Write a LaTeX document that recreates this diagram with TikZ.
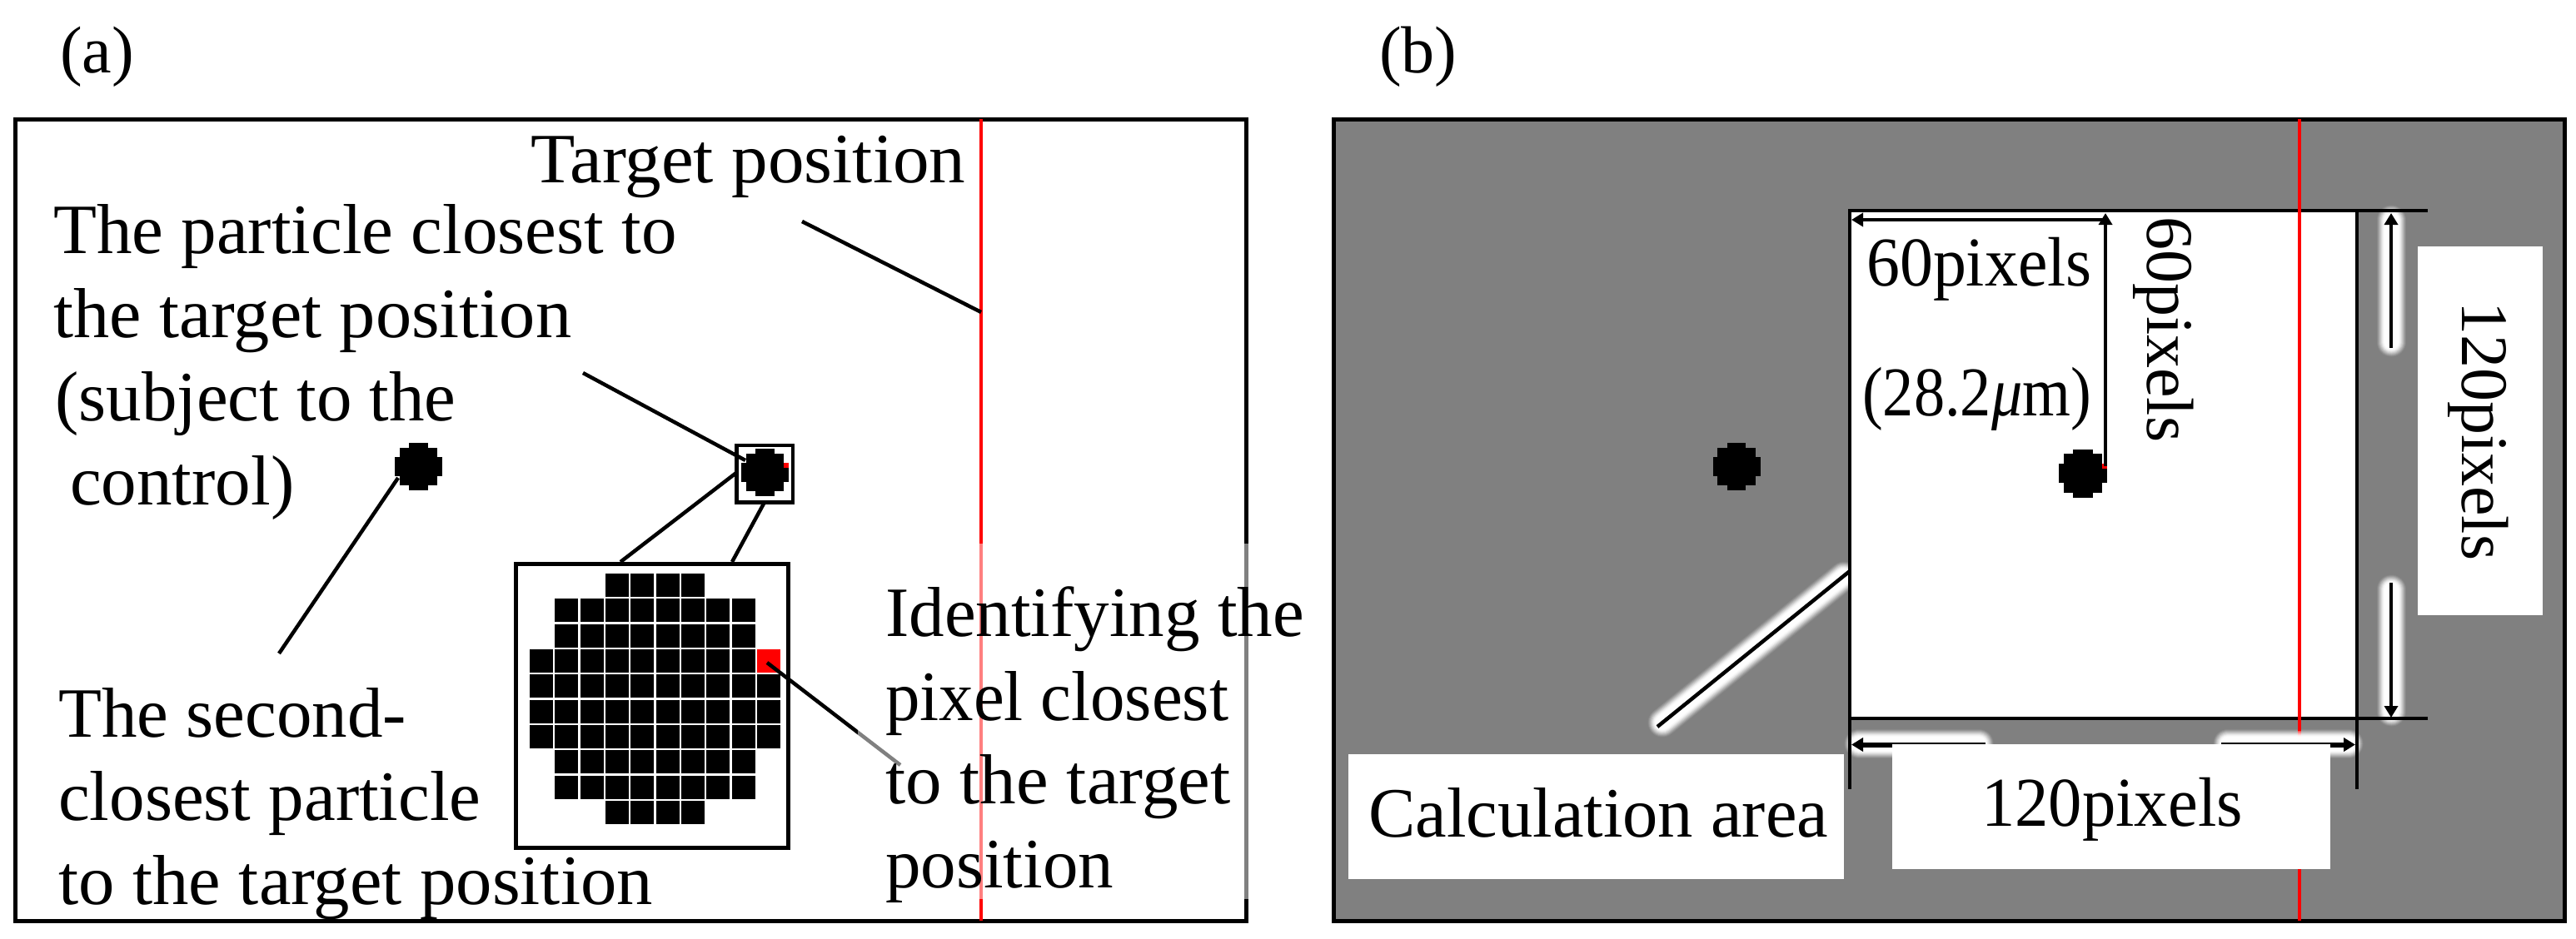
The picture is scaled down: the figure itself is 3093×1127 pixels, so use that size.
\documentclass[tikz,border=0pt]{standalone}
\usepackage{fontspec}
\usepackage{graphicx}
\setmainfont{Liberation Serif}
\usetikzlibrary{arrows.meta}
\definecolor{panelgray}{HTML}{808080}
\definecolor{markred}{HTML}{FF0000}
\tikzset{
  frame/.style={draw=black,line width=5pt,rectangle,inner sep=0pt},
  leader/.style={black,line width=4.5pt},
  redline/.style={markred,line width=3.5pt},
  winline/.style={black,line width=4.5pt},
  tiplong/.style={-{Triangle[width=16pt,length=14pt]}},
  lbl/.style={anchor=base west,inner sep=0pt,align=left,font=\fontsize{85}{100.5}\selectfont},
}
\newcommand{\widen}[2]{\scalebox{#1}[1]{#2}}
% top-left x, top-left y, pixel size, colour of the marked pixel
\newcommand{\particleshape}[4]{%
  \fill[black] (#1+3*#3,#2) rectangle (#1+7*#3,#2+1*#3);
  \fill[black] (#1+1*#3,#2+1*#3) rectangle (#1+9*#3,#2+3*#3);
  \fill[black] (#1,#2+3*#3) rectangle (#1+10*#3,#2+7*#3);
  \fill[black] (#1+1*#3,#2+7*#3) rectangle (#1+9*#3,#2+9*#3);
  \fill[black] (#1+3*#3,#2+9*#3) rectangle (#1+7*#3,#2+10*#3);
  \fill[#4] (#1+9*#3,#2+3*#3) rectangle (#1+10*#3,#2+4*#3);
}
% soft white glow behind a line
\newcommand{\glowline}[2]{%
  \foreach \w/\o in {35/.08,33/.12,31/.16,29/.2,27/.25,25/.3,23/.4,21/.5,19/.6,17/.8}{
    \draw[white,line width=\w pt,opacity=\o,line cap=round] #1 -- #2;
  }
}
\begin{document}
\begin{tikzpicture}[x=1pt,y=-1pt]
\useasboundingbox (0,0) rectangle (3093,1127);
\fill[white] (0,0) rectangle (3093,1127);

% ---------- panel (a)
\node[lbl,font=\fontsize{80}{90}\selectfont] (tagA) at (72,87) {(a)};
\node[frame,minimum width=1478pt,minimum height=963pt] (frameA) at (757,624.5) {};
\coordinate (redAtop) at (1178,143);
\coordinate (redAbot) at (1178,1106);
\coordinate (redAhit) at (1178,375);
\draw[redline,line width=4.5pt] (redAtop) -- (redAbot);

\particleshape{474}{532}{5.7}{black}
\particleshape{890}{539}{5.7}{markred}

\node[draw=black,line width=4.5pt,inner sep=0pt,minimum width=67.3pt,minimum height=68.7pt] (smallbox) at (918.35,569.35) {};
\node[draw=black,line width=4.5pt,inner sep=0pt,minimum width=327.4pt,minimum height=341.4pt] (bigbox) at (783,848) {};
\foreach \r/\a/\b in {0/3/6,1/1/8,2/1/8,3/0/8,4/0/9,5/0/9,6/0/9,7/1/8,8/1/8,9/3/6}{
  \foreach \c in {\a,...,\b}{
    \fill[black] (636+30.33*\c,689+30.33*\r) rectangle +(28,28);
  }
}
\fill[markred] (909,780) rectangle +(28,28);

\coordinate (tgtEnd) at (963,266);
\coordinate (clsEnd) at (700,448);
\coordinate (clsHit) at (895,553);
\coordinate (secStart) at (478,574);
\coordinate (secEnd) at (335,785);
\coordinate (zoomA) at (884,568);
\coordinate (zoomAb) at (745,675);
\coordinate (zoomB) at (917,605);
\coordinate (zoomBb) at (879,675);
\coordinate (pixStart) at (921,796);
\coordinate (pixEnd) at (1081,919);
\draw[leader] (tgtEnd) -- (redAhit);
\draw[leader] (clsEnd) -- (clsHit);
\draw[leader] (secStart) -- (secEnd);
\draw[leader] (zoomA) -- (zoomAb);
\draw[leader] (zoomB) -- (zoomBb);
\draw[leader] (pixStart) -- (pixEnd);

% pale veil of the text box over the figure
\fill[white,opacity=.5] (1030,653) rectangle (1570,1080);

\node[lbl] (tTarget) at (637,219) {\widen{1.025}{Target position}};
\node[lbl] (tClosest) at (64,606) {The particle closest to\\\widen{1.016}{the target position}\\\hspace*{2pt}(subject to the\\\hspace*{20pt}control)};
\node[lbl] (tSecond) at (70,1086) {The second-\\closest particle\\\widen{1.02}{to the target position}};
\node[lbl] (tPixel) at (1063,1066) {Identifying the\\\widen{.975}{pixel closest}\\\widen{1.024}{to the target}\\position};

% ---------- panel (b)
\node[lbl,font=\fontsize{80}{90}\selectfont] (tagB) at (1656,87) {(b)};
\node[frame,fill=panelgray,minimum width=1478pt,minimum height=963pt] (frameB) at (2340,624.5) {};
\fill[white] (2221,253) rectangle (2830,863);
\coordinate (redBtop) at (2761,143);
\coordinate (redBbot) at (2761,1106);
\coordinate (redBmid) at (2761,878);
\draw[redline] (redBtop) -- (redBbot);

\particleshape{2056.5}{532}{5.7}{black}
\particleshape{2472}{539.5}{5.8}{markred}

% glows
\coordinate (calcA) at (2221,686);
\coordinate (calcB) at (1990,873);
\glowline{(2214,692)}{(1996,868)}
\glowline{(2871,264)}{(2871,411)}
\glowline{(2871,708)}{(2871,855)}
\glowline{(2232,893)}{(2376,893)}
\glowline{(2675,893)}{(2820,893)}

% window lines
\coordinate (winTL) at (2221,253);
\coordinate (winTR) at (2915,253);
\coordinate (winBL) at (2221,863);
\coordinate (winBR) at (2915,863);
\coordinate (winLtop) at (2221,251);
\coordinate (winLbot) at (2221,948);
\coordinate (winRtop) at (2830,251);
\coordinate (winRbot) at (2830,948);
\draw[winline] (winTL) -- (winTR);
\draw[winline] (winBL) -- (winBR);
\draw[winline] (winLtop) -- (winLbot);
\draw[winline] (winRtop) -- (winRbot);
\draw[redline] (redBtop) -- (redBmid);
\draw[leader] (calcA) -- (calcB);

% dimension arrows
\coordinate (d60a) at (2527,264);
\coordinate (d60b) at (2223,264);
\coordinate (d60c) at (2528,560);
\coordinate (d60d) at (2528,256);
\draw[line width=4.5pt,tiplong] (d60a) -- (d60b);
\draw[line width=4pt,tiplong] (d60c) -- (d60d);
\coordinate (up1) at (2871,418);
\coordinate (up2) at (2871,256);
\coordinate (dn1) at (2871,700);
\coordinate (dn2) at (2871,862);
\draw[line width=4pt,tiplong] (up1) -- (up2);
\draw[line width=4pt,tiplong] (dn1) -- (dn2);
\coordinate (lf1) at (2384,894.5);
\coordinate (lf2) at (2223,894.5);
\coordinate (rt1) at (2667,894.5);
\coordinate (rt2) at (2828,894.5);
\draw[line width=6pt,tiplong] (lf1) -- (lf2);
\draw[line width=6pt,tiplong] (rt1) -- (rt2);

% label boxes
\fill[white] (1619,906) rectangle (2214,1056);
\fill[white] (2272,894) rectangle (2798,1044);
\fill[white] (2903,296) rectangle (3053,739);

\node[lbl] (tCalc) at (1643,1005) {\widen{.995}{Calculation area}};
\node[lbl,font=\fontsize{84}{84}\selectfont] (t120h) at (2379,992) {\widen{.96}{120pixels}};
\node[lbl,font=\fontsize{80}{80}\selectfont,rotate=-90] (t120v) at (2956,362) {120pixels};
\node[lbl,font=\fontsize{84}{84}\selectfont] (t60h) at (2241,343) {\widen{.95}{60pixels}};
\node[lbl,font=\fontsize{84}{84}\selectfont] (t28) at (2236,499) {\widen{.885}{(28.2{\itshape μ}m)}};
\node[lbl,font=\fontsize{80}{80}\selectfont,rotate=-90] (t60v) at (2578,260) {60pixels};
\end{tikzpicture}
\end{document}
